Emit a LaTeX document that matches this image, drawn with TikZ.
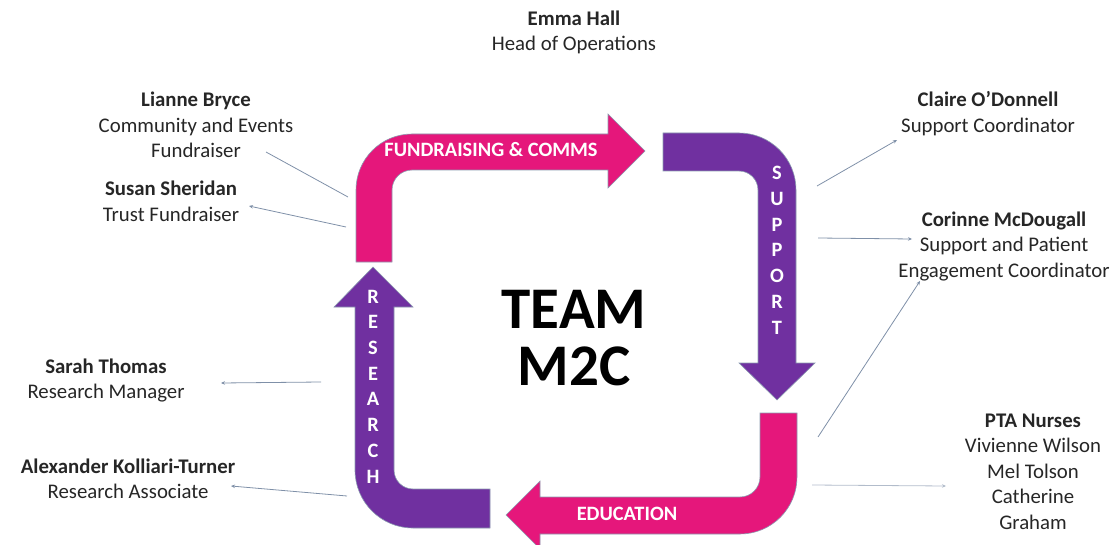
\documentclass[tikz,border=0pt]{standalone}
\usepackage{fontspec}
\setmainfont{Carlito}
\usetikzlibrary{arrows.meta}
\definecolor{teampink}{HTML}{E5177B}
\definecolor{teampurple}{HTML}{7030A0}
\definecolor{edgegray}{HTML}{8A9BB0}
\definecolor{linkgray}{HTML}{7F90A8}
\definecolor{textdark}{HTML}{262626}

\begin{document}
\begin{tikzpicture}[x=1pt, y=-1pt,
    person/.style={align=center, anchor=base, text=textdark,
      font=\fontsize{20.8}{25.5}\selectfont, inner sep=0pt},
    band/.style={draw=edgegray, line width=0.6pt},
    bandtext/.style={text=white, anchor=base, inner sep=0pt,
      font=\fontsize{20.4}{25.7}\selectfont\bfseries, align=center},
    link/.style={draw=linkgray, line width=0.8pt, -{Stealth[length=4pt, width=3.5pt]}}]

    \useasboundingbox (0,0) rectangle (1110,545);

    % Bent arrows
    \path[band, fill=teampink] (356,262) -- (356,190) arc[start angle=180, end angle=270, radius=56]
      -- (608,134) -- (608,114) -- (645,151) -- (608,188) -- (608,170)
      -- (412,170) arc[start angle=270, end angle=180, radius=20] -- (392,262) -- cycle;
    \path[band, fill=teampurple] (663,133) -- (739,133) arc[start angle=270, end angle=360, radius=57]
      -- (796,363) -- (815,363) -- (777,400) -- (739,363) -- (758,363)
      -- (758,190) arc[start angle=0, end angle=-90, radius=19] -- (663,171) -- cycle;
    \path[band, fill=teampink] (797,413) -- (797,477) arc[start angle=0, end angle=90, radius=57]
      -- (540,534) -- (540,549) -- (506,515) -- (540,481) -- (540,497)
      -- (740,497) arc[start angle=90, end angle=0, radius=20] -- (760,413) -- cycle;
    \path[band, fill=teampurple] (490,528) -- (413,528) arc[start angle=90, end angle=180, radius=58]
      -- (355,307) -- (334,307) -- (373,267) -- (413,307) -- (394,307)
      -- (394,470) arc[start angle=180, end angle=90, radius=19] -- (490,489) -- cycle;

    % Arrow labels (base = last line)
    \node[bandtext] (fund) at (491,157) {FUNDRAISING \& COMMS};
    \node[bandtext] (supp) at (777,334) {S\\U\\P\\P\\O\\R\\T};
    \node[bandtext] (educ) at (627,520) {EDUCATION};
    \node[bandtext] (rsch) at (373,483) {R\\E\\S\\E\\A\\R\\C\\H};

    % Centre
    \node[anchor=base, align=center, inner sep=0pt,
      font=\fontsize{59}{57}\selectfont\bfseries] (team) at (574,385) {TEAM\\M2C};

    % People
    \node[person] (emma) at (574,51) {\textbf{Emma Hall}\\Head of Operations};
    \node[person] (lianne) at (196,158) {\textbf{Lianne Bryce}\\Community and Events\\Fundraiser};
    \node[person] (susan) at (171,221.5) {\textbf{Susan Sheridan}\\Trust Fundraiser};
    \node[person] (claire) at (988,132.5) {\textbf{Claire O’Donnell}\\Support Coordinator};
    \node[person] (corinne) at (1004,277) {\textbf{Corinne McDougall}\\Support and Patient\\Engagement Coordinator};
    \node[person] (sarah) at (106,398.5) {\textbf{Sarah Thomas}\\Research Manager};
    \node[person] (alexander) at (128,498.5) {\textbf{Alexander Kolliari-Turner}\\Research Associate};
    \node[person] (nurses) at (1033,529) {\textbf{PTA Nurses}\\Vivienne Wilson\\Mel Tolson\\Catherine\\Graham};

    % Connector ends
    \coordinate (lianne-a) at (348,197);  \coordinate (lianne-b) at (266,152);
    \coordinate (susan-a) at (346,227);   \coordinate (susan-b) at (249,206);
    \coordinate (claire-a) at (817,186);  \coordinate (claire-b) at (897,140);
    \coordinate (corinne-a) at (818,238); \coordinate (corinne-b) at (912,239);
    \coordinate (corinne-c) at (818,437); \coordinate (corinne-d) at (920,281);
    \coordinate (sarah-a) at (321,382);   \coordinate (sarah-b) at (221,383);
    \coordinate (alex-a) at (347,496);    \coordinate (alex-b) at (231,486);
    \coordinate (nurses-a) at (812,485);  \coordinate (nurses-b) at (946,486);

    % Connectors
    \draw[draw=linkgray, line width=0.8pt] (lianne-a) -- (lianne-b);
    \draw[link] (susan-a) -- (susan-b);
    \draw[link] (claire-a) -- (claire-b);
    \draw[link] (corinne-a) -- (corinne-b);
    \draw[link] (corinne-c) -- (corinne-d);
    \draw[link] (sarah-a) -- (sarah-b);
    \draw[link] (alex-a) -- (alex-b);
    \draw[link, draw=linkgray!60] (nurses-a) -- (nurses-b);
\end{tikzpicture}
\end{document}
